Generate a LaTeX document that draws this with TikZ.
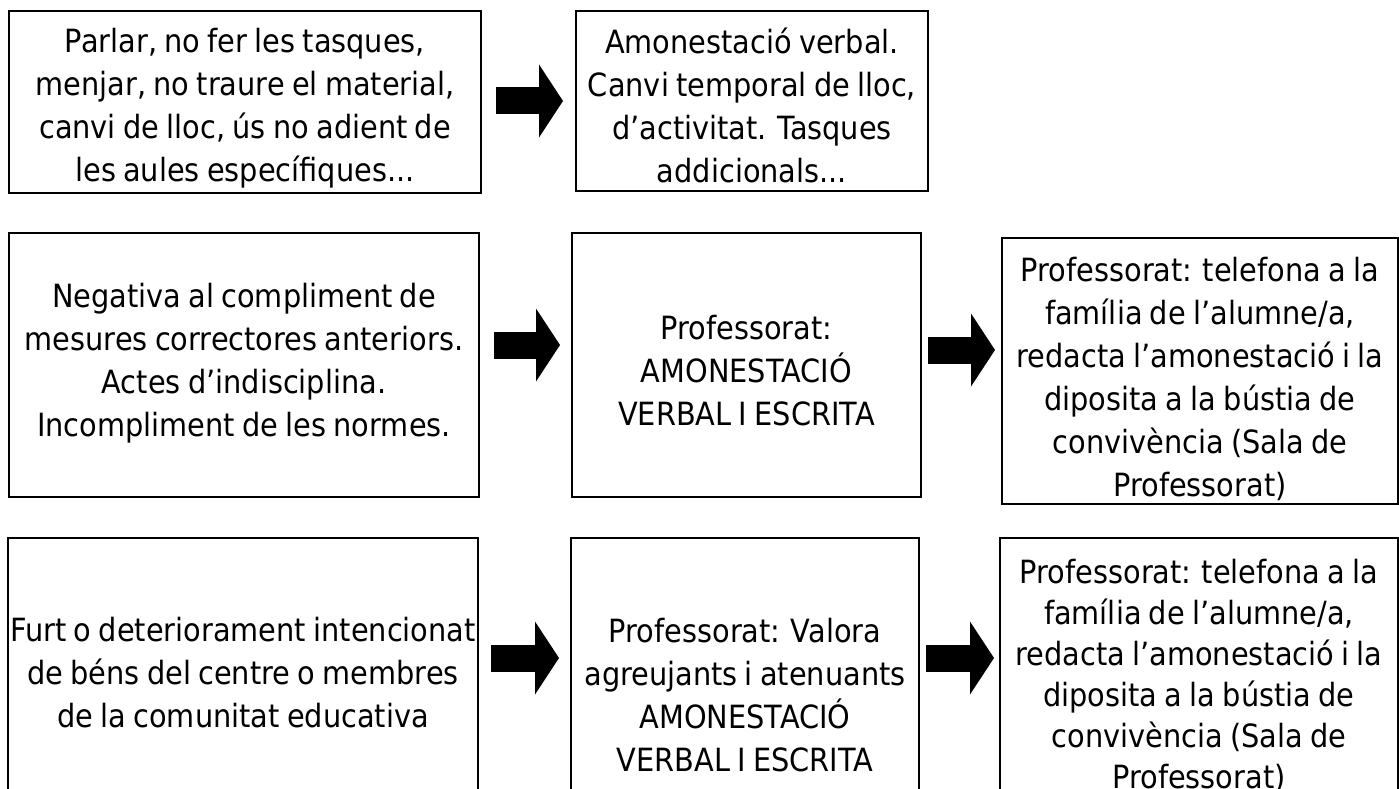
\documentclass[tikz,border=0pt]{standalone}
\usepackage{fontspec}
\setmainfont{DejaVu Sans}[FakeStretch=0.9,WordSpace=0.8]
\usetikzlibrary{arrows.meta,calc}
\begin{document}
\begin{tikzpicture}[x=1pt,y=-1pt,
  box/.style={draw=black,line width=2pt,anchor=north west,inner sep=0pt},
  txt/.style={align=center,inner sep=0pt,font=\fontsize{32pt}{43pt}\selectfont},
  blk/.style={line width=27pt,-{Triangle[width=73pt,length=24pt,line width=0pt]}}]
\clip (0,0) rectangle (1399,789);
\fill[white] (0,0) rectangle (1399,789);
\node[box,minimum width=472pt,minimum height=182pt] (A) at (8,10) {};
\node[box,minimum width=352pt,minimum height=180pt] (B) at (575,10) {};
\node[box,minimum width=470pt,minimum height=264pt] (C) at (8,232) {};
\node[box,minimum width=349pt,minimum height=264pt] (D) at (571,232) {};
\node[box,minimum width=396pt,minimum height=266pt] (E) at (1001,237) {};
\node[box,minimum width=470pt,minimum height=270pt] (F) at (7,537) {};
\node[box,minimum width=348pt,minimum height=310pt] (G) at (570,537) {};
\node[box,minimum width=398pt,minimum height=280pt] (H) at (999,537) {};
\node[txt] (At) at ($(A.center)+(0,6)$)
  {Parlar, no fer les tasques,\\ menjar, no traure el material,\\ canvi de lloc, ús no adient de\\ les aules específiques...};
\node[txt] (Bt) at ($(B.center)+(0,4)$)
  {Amonestació verbal.\\ Canvi temporal de lloc,\\ d’activitat. Tasques\\ addicionals...};
\node[txt] (Ct) at ($(C.center)+(0,-2)$)
  {Negativa al compliment de\\ mesures correctores anteriors.\\ Actes d’indisciplina.\\ Incompliment de les normes.};
\node[txt] (Dt) at ($(D.center)+(0,6)$)
  {Professorat:\\ AMONESTACIÓ\\ VERBAL I ESCRITA};
\node[txt] (Et) at ($(E.center)+(0,8)$)
  {Professorat: telefona a la\\ família de l’alumne/a,\\ redacta l’amonestació i la\\ diposita a la bústia de\\ convivència (Sala de\\ Professorat)};
\node[txt] (Ft) at ($(F.center)+(0,0)$)
  {Furt o deteriorament intencionat\\ de béns del centre o membres\\ de la comunitat educativa};
\node[txt] (Gt) at ($(G.center)+(0,2)$)
  {Professorat: Valora\\ agreujants i atenuants\\ AMONESTACIÓ\\ VERBAL I ESCRITA};
\node[txt,font=\fontsize{32pt}{41pt}\selectfont] (Ht) at ($(H.center)+(0,-2)$)
  {Professorat: telefona a la\\ família de l’alumne/a,\\ redacta l’amonestació i la\\ diposita a la bústia de\\ convivència (Sala de\\ Professorat)};
\draw[blk] ($(A.east|-0,101)+(14,0)$) -- ($(B.west|-0,101)+(-12,0)$);
\draw[blk] ($(C.east|-0,345)+(14,0)$) -- ($(D.west|-0,345)+(-11,0)$);
\draw[blk] ($(D.east|-0,350)+(6,0)$) -- ($(E.west|-0,350)+(-6,0)$);
\draw[blk] ($(F.east|-0,658)+(12,0)$) -- ($(G.west|-0,658)+(-11,0)$);
\draw[blk] ($(G.east|-0,658)+(6,0)$) -- ($(H.west|-0,658)+(-5,0)$);
\end{tikzpicture}
\end{document}
